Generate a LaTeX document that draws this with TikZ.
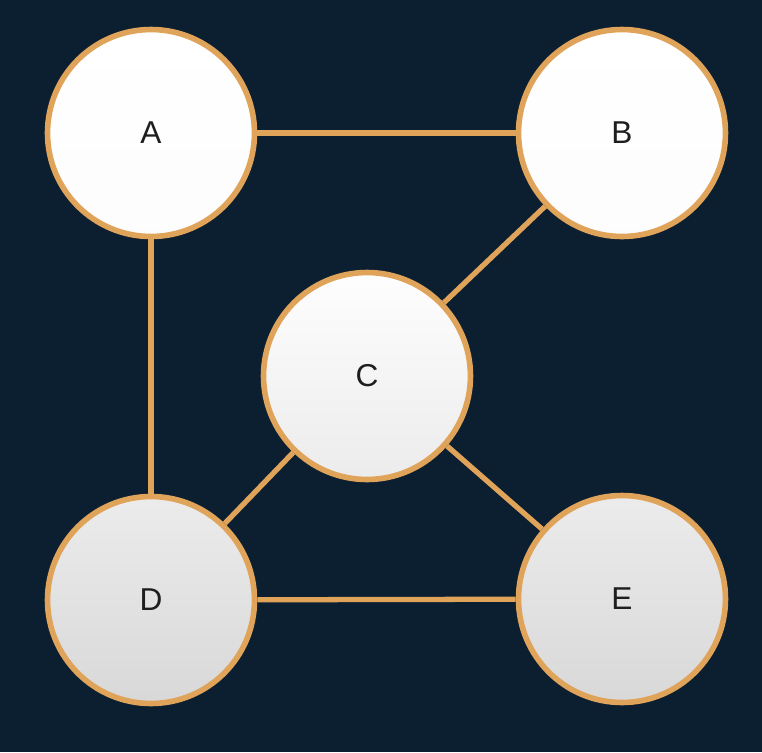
\documentclass[tikz,border=0pt]{standalone}
\usepackage{fontspec}
\setmainfont{Liberation Sans}
\usepackage{xcolor}
\usepackage{tikz}
\usetikzlibrary{positioning, backgrounds}
\definecolor{navynight}{HTML}{0C1F31}
\definecolor{goldrim}{HTML}{DFA35A}
\definecolor{pearl}{HTML}{FFFFFF}
\definecolor{mistgrey}{HTML}{D4D4D4}
\definecolor{letterink}{HTML}{1E1E1E}
\tikzset{
  link/.style={line width=3pt, goldrim},
  vertex/.style={circle, draw=goldrim, line width=3.2pt, minimum size=4.14cm, inner sep=0pt, text=letterink, font=\fontsize{18}{20}\selectfont},
}

\begin{document}
\begin{tikzpicture}[x=0.02cm, y=-0.02cm,
    litv/.style={vertex, top color=pearl, bottom color=pearl!94!mistgrey},
    midv/.style={vertex, top color=pearl!97!mistgrey, bottom color=pearl!55!mistgrey},
    dimv/.style={vertex, top color=pearl!55!mistgrey, bottom color=pearl!10!mistgrey}]

  % Upper pair
  \node[litv] (A) at (151,133) {A};
  \node[litv] (B) at (622,133) {B};
  % Centre
  \node[midv] (C) at (367,376) {C};
  % Lower pair
  \node[dimv] (D) at (151,600) {D};
  \node[dimv] (E) at (622,599) {E};

  \begin{scope}[on background layer]
    \fill[navynight] (0,0) rectangle (762,752);
    \draw[link] (A) -- (B);
    \draw[link] (A) -- (D);
    \draw[link] (B) -- (C);
    \draw[link] (C) -- (D);
    \draw[link] (C) -- (E);
    \draw[link] (D) -- (E);
  \end{scope}
\end{tikzpicture}
\end{document}
